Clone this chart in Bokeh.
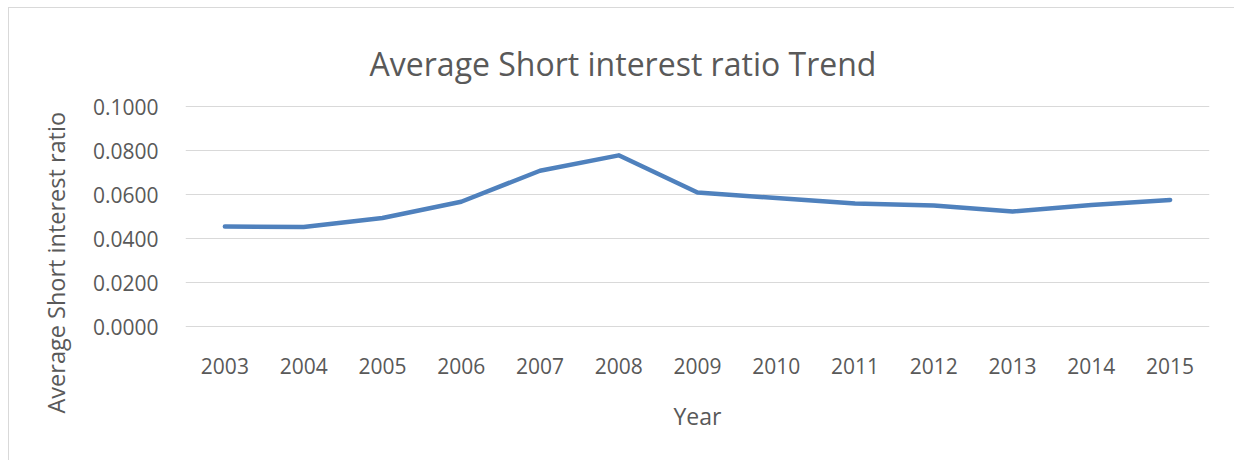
from bokeh.plotting import figure
from bokeh.models import Range1d, FixedTicker, NumeralTickFormatter, Title, Label
from bokeh.embed import file_html
from bokeh.resources import INLINE

years = ["2003", "2004", "2005", "2006", "2007", "2008", "2009",
         "2010", "2011", "2012", "2013", "2014", "2015"]
ratio = [0.0455, 0.0452, 0.0493, 0.0567, 0.0708, 0.0778, 0.0609,
         0.0584, 0.0559, 0.0550, 0.0523, 0.0552, 0.0575]
y_ticks = [0.0, 0.02, 0.04, 0.06, 0.08, 0.10]

FONT = "Open Sans"
GREY = "#595959"

# 0.02 per 44 px; frame spans page y 8..328 so the title can sit inside it
px = 0.02 / 44
p = figure(x_range=years, y_range=Range1d(-2 * px, 318 * px),
           width=1226, height=453,
           min_border_left=176, min_border_right=26,
           min_border_top=0, min_border_bottom=133,
           output_backend="svg", toolbar_location=None)
p.x_range.range_padding = 0
p.outline_line_color = None
p.styles = {"box-shadow": "-1px -1px 0 0 #d9d9d9",
            "margin-left": "9px", "margin-top": "8px"}

p.line(years, ratio, line_color="#4F81BD", line_width=4.5, line_cap="round", line_join="round")

p.xgrid.grid_line_color = None
p.ygrid.grid_line_color = "#d9d9d9"
p.ygrid.grid_line_width = 1.2

p.yaxis.ticker = FixedTicker(ticks=y_ticks)
p.yaxis.formatter = NumeralTickFormatter(format="0.0000")
for ax in (p.xaxis, p.yaxis):
    ax.axis_line_color = None
    ax.major_tick_line_color = None
    ax.minor_tick_line_color = None
    ax.major_tick_out = 0
    ax.major_tick_in = 0
    ax.major_label_text_font = FONT
    ax.major_label_text_font_size = "21px"
    ax.major_label_text_color = GREY
p.yaxis.major_label_standoff = 27
p.xaxis.major_label_standoff = 29

p.xaxis.axis_label = "Year"
p.xaxis.axis_label_text_font = FONT
p.xaxis.axis_label_text_font_size = "23px"
p.xaxis.axis_label_text_font_style = "normal"
p.xaxis.axis_label_text_color = GREY
p.xaxis.axis_label_standoff = 23

# chart title, centred at page x ~622 with its baseline at page y ~63
p.add_layout(Label(x=437.5 / (1024 / 13), y=263 * px,
                   text="Average Short interest ratio Trend",
                   text_font=FONT, text_font_size="32px", text_color=GREY,
                   text_align="center", text_baseline="alphabetic"))

p.add_layout(Title(text="Average Short interest ratio", align="left", offset=-85,
                   text_font=FONT, text_font_size="23.5px", text_color=GREY,
                   text_font_style="normal", standoff=35), "left")

open("out.html", "w").write(file_html(p, INLINE))
